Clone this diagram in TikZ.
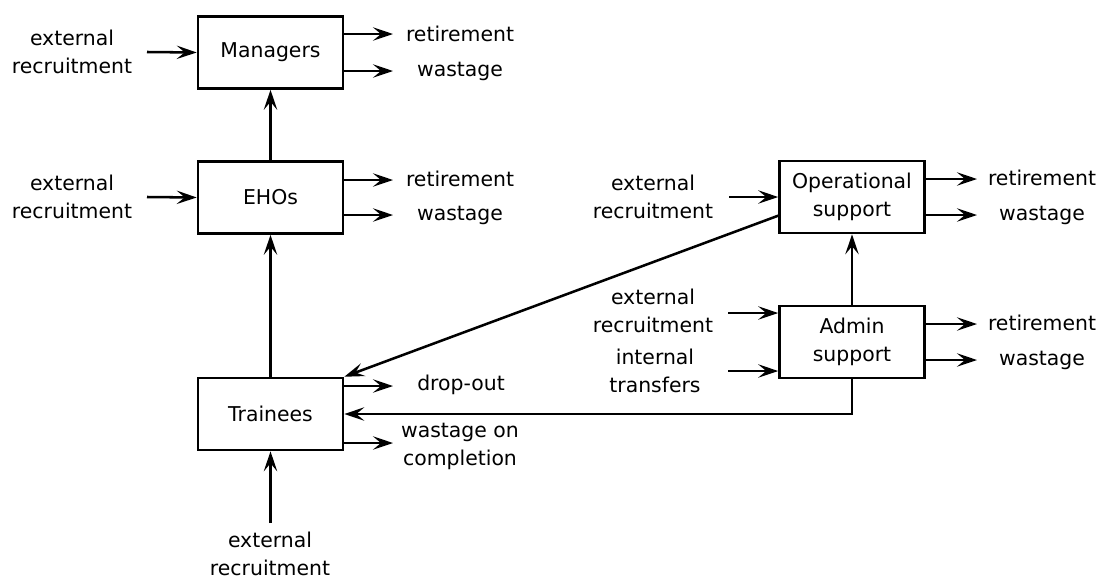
\documentclass[tikz,border=0pt]{standalone}
\usepackage{fontspec}
\setmainfont{DejaVu Sans}
\usetikzlibrary{arrows.meta}

\tikzset{
  flowbox/.style={draw, line width=1.9pt, minimum width=108.75pt, minimum height=54pt,
    align=center, inner sep=0pt},
  lbl/.style={align=center, inner sep=0pt},
  flow/.style={line width=1.9pt, -{Stealth[length=15pt, width=10pt, inset=6pt]}}
}

\begin{document}
\begin{tikzpicture}[x=0.75pt, y=-0.75pt, font=\fontsize{15.3pt}{21pt}\selectfont]
            \useasboundingbox (0,0) rectangle (1106,579);
            % staff groups
            \node[flowbox] (mgr) at (270.5, 52.5) {Managers};
            \node[flowbox] (eho) at (270.5, 197.5) {EHOs};
            \node[flowbox] (trn) at (270.5, 414) {Trainees};
            \node[flowbox] (ops) at (852, 197) {Operational\\support};
            \node[flowbox] (adm) at (852, 342) {Admin\\support};
            % inflows
            \node[lbl] (mgrIn) at (72, 52) {external\\recruitment};
            \node[lbl] (ehoIn) at (72, 197) {external\\recruitment};
            \node[lbl] (trnIn) at (270, 554) {external\\recruitment};
            \node[lbl] (opsIn) at (653, 197) {external\\recruitment};
            \node[lbl] (admIn) at (653, 311) {external\\recruitment};
            \node[lbl] (admTr) at (655, 371) {internal\\transfers};
            \coordinate (mgrA) at (147, 52);
            \coordinate (ehoA) at (147, 197);
            \coordinate (trnA) at (270.5, 523);
            \coordinate (opsA) at (729, 197);
            \coordinate (admA) at (728, 313);
            \coordinate (admB) at (728, 371);
            \draw[flow] (mgrA) -- (mgr.west);
            \draw[flow] (ehoA) -- (eho.west);
            \draw[flow] (trnA) -- (trn.south);
            \draw[flow] (opsA) -- (ops.west);
            \draw[flow] (admA) -- (admA -| adm.west);
            \draw[flow] (admB) -- (admB -| adm.west);
            % outflows
            \node[lbl] (mgrRet) at (460, 34) {retirement};
            \node[lbl] (mgrWas) at (460, 71) {wastage};
            \node[lbl] (ehoRet) at (460, 179) {retirement};
            \node[lbl] (ehoWas) at (460, 215) {wastage};
            \node[lbl] (opsRet) at (1042, 178) {retirement};
            \node[lbl] (opsWas) at (1042, 215) {wastage};
            \node[lbl] (admRet) at (1042, 323) {retirement};
            \node[lbl] (admWas) at (1042, 360) {wastage};
            \node[lbl] (trnDrop) at (461, 385) {drop-out};
            \node[lbl] (trnWas) at (460, 446) {wastage on\\completion};
            \draw[flow] (mgr.east |- 0,34) -- (393, 34);
            \draw[flow] (mgr.east |- 0,71) -- (393, 71);
            \draw[flow] (eho.east |- 0,180) -- (393, 180);
            \draw[flow] (eho.east |- 0,215) -- (393, 215);
            \draw[flow] (ops.east |- 0,179) -- (977, 179);
            \draw[flow] (ops.east |- 0,215) -- (977, 215);
            \draw[flow] (adm.east |- 0,324) -- (977, 324);
            \draw[flow] (adm.east |- 0,360) -- (977, 360);
            \draw[flow] (trn.east |- 0,386) -- (393, 386);
            \draw[flow] (trn.east |- 0,443) -- (393, 443);
            % promotions and transfers
            \draw[flow] (eho.north) -- (mgr.south);
            \draw[flow] (trn.north) -- (eho.south);
            \draw[flow] (adm.north) -- (ops.south);
            \draw[flow] (adm.south) |- (trn.east);
            \draw[flow] ([yshift=-14pt]ops.west) -- (trn.north east);
        \end{tikzpicture}
\end{document}
